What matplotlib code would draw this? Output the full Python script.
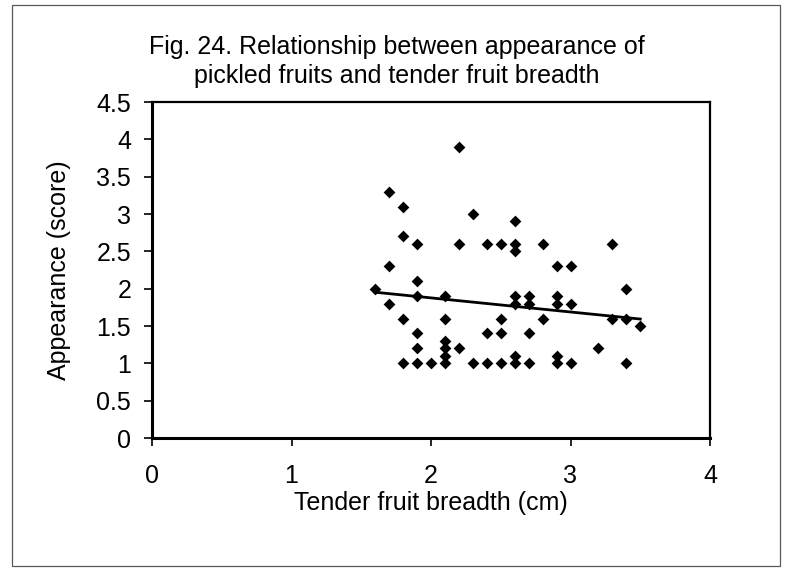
import numpy as np
import matplotlib
matplotlib.use("Agg")
import matplotlib.pyplot as plt
from matplotlib.patches import Rectangle

# tender fruit breadth (cm) vs appearance score
breadth = [2.2, 1.7, 1.8, 2.3, 2.6, 1.8, 1.9, 2.2, 2.4, 2.5, 2.6, 2.6, 2.8, 3.3,
           1.7, 2.9, 3.0, 1.9, 1.6, 3.4, 1.9, 2.1, 2.6, 2.7, 2.9, 1.7, 2.6, 2.7,
           2.9, 3.0, 1.8, 2.1, 2.5, 2.8, 3.3, 3.4, 3.5, 1.9, 2.4, 2.5, 2.7, 2.1,
           1.9, 2.1, 2.2, 3.2, 2.1, 2.6, 2.9, 1.8, 1.9, 2.0, 2.1, 2.3, 2.4, 2.5,
           2.6, 2.7, 2.9, 3.0, 3.4]
appearance = [3.9, 3.3, 3.1, 3.0, 2.9, 2.7, 2.6, 2.6, 2.6, 2.6, 2.6, 2.5, 2.6, 2.6,
              2.3, 2.3, 2.3, 2.1, 2.0, 2.0, 1.9, 1.9, 1.9, 1.9, 1.9, 1.8, 1.8, 1.8,
              1.8, 1.8, 1.6, 1.6, 1.6, 1.6, 1.6, 1.6, 1.5, 1.4, 1.4, 1.4, 1.4, 1.3,
              1.2, 1.2, 1.2, 1.2, 1.1, 1.1, 1.1, 1.0, 1.0, 1.0, 1.0, 1.0, 1.0, 1.0,
              1.0, 1.0, 1.0, 1.0, 1.0]

title_lines = ["Fig. 24. Relationship between appearance of",
               "pickled fruits and tender fruit breadth"]
x_ticks = [0, 1, 2, 3, 4]
y_ticks = [0, 0.5, 1, 1.5, 2, 2.5, 3, 3.5, 4, 4.5]

plt.rcParams["font.family"] = ["Liberation Sans", "DejaVu Sans"]
fs = 18

fig = plt.figure(figsize=(7.94, 5.75), dpi=100)
ax = fig.add_axes([152 / 794, 1 - 438 / 575, (710 - 152) / 794, (438 - 102) / 575])

x = np.asarray(breadth)
y = np.asarray(appearance)
ax.scatter(x, y, marker="D", s=36, color="black", zorder=3, linewidths=0)

# linear trend line over the data range
slope, intercept = np.polyfit(x, y, 1)
xs = np.array([x.min(), x.max()])
ax.plot(xs, slope * xs + intercept, color="black", lw=2.0, zorder=2)

ax.set_xlim(0, 4)
ax.set_ylim(0, 4.5)
ax.set_xticks(x_ticks)
ax.set_yticks(y_ticks)
ax.set_xticklabels([str(t) for t in x_ticks])
ax.set_yticklabels([f"{t:g}" for t in y_ticks])
ax.tick_params(axis="x", direction="out", length=6, width=1.2, pad=13, labelsize=fs)
ax.tick_params(axis="y", direction="out", length=6, width=1.2, pad=9, labelsize=fs)

for side in ("left", "bottom"):
    ax.spines[side].set_linewidth(2.2)
for side in ("top", "right"):
    ax.spines[side].set_linewidth(1.6)

ax.set_xlabel("Tender fruit breadth (cm)", fontsize=fs, labelpad=2)
ax.set_ylabel("Appearance (score)", fontsize=fs, labelpad=18)

fig.text(0.5, 1 - 47 / 575, title_lines[0], ha="center", va="center", fontsize=fs)
fig.text(0.5, 1 - 76 / 575, title_lines[1], ha="center", va="center", fontsize=fs)

# outer chart border
fig.patches.append(Rectangle((12 / 794, 1 - 566 / 575), (780 - 12) / 794, (566 - 5) / 575,
                             transform=fig.transFigure, fill=False,
                             edgecolor="0.35", lw=0.9))

fig.savefig("out.png", dpi=100)
